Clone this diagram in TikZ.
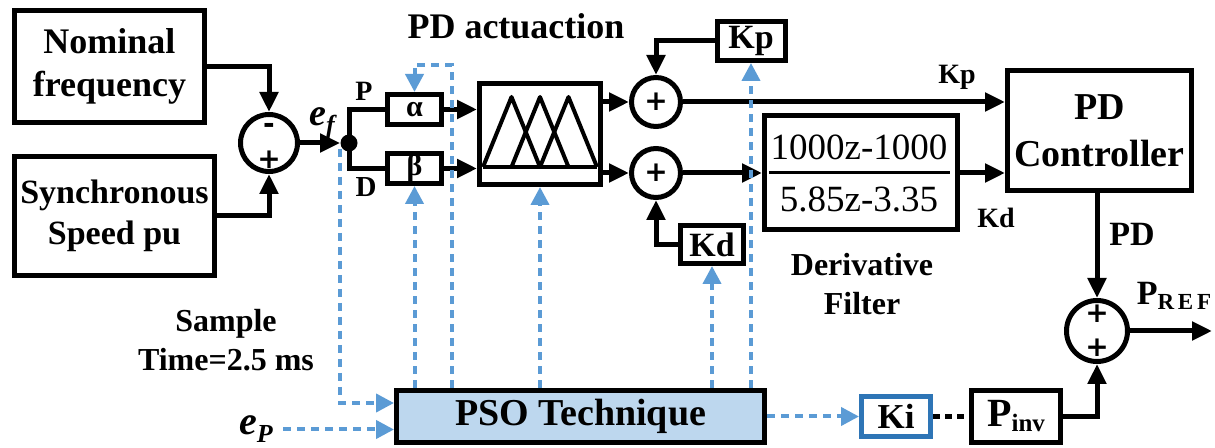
\documentclass[tikz,border=0pt]{standalone}
\usepackage{fontspec}
\setmainfont{Liberation Serif}
\newfontfamily\signfont{DejaVu Sans}
\usetikzlibrary{arrows.meta,calc}
\definecolor{bl}{HTML}{5B9BD5}
\definecolor{bldark}{HTML}{2E75B6}
\definecolor{psofill}{HTML}{BDD7EE}
\begin{document}
\begin{tikzpicture}[x=0.5pt,y=-0.5pt,
  blk/.style={draw, line width=2.5pt, inner sep=0pt, align=center},
  sumc/.style={draw, circle, line width=2.5pt, inner sep=0pt},
  sign/.style={inner sep=0pt, font=\signfont\bfseries\fontsize{14}{14}\selectfont},
  ar/.style={line width=2.5pt, -{Triangle[length=10pt,width=9pt]}},
  ln/.style={line width=2.5pt},
  bd/.style={draw=bl, line width=2pt, dash pattern=on 4pt off 3pt, -{Triangle[length=9pt,width=9pt,fill=bl]}},
  lbl/.style={inner sep=0pt, align=center}]
\useasboundingbox (0,0) rectangle (1215,448);

% blocks
\node[blk, minimum width=95pt, minimum height=56pt, font=\bfseries\fontsize{18}{21.5}\selectfont] (nom) at (109.5,66.5) {Nominal\\frequency};
\node[blk, minimum width=100pt, minimum height=59.5pt, font=\bfseries\fontsize{17}{20.5}\selectfont] (syn) at (114.5,216) {Synchronous\\Speed pu};
\node[sumc, minimum size=28.5pt] (s1) at (269,143) {};
\node[sign] at (269,128) {-};
\node[sign] at (269,160) {+};
\node[circle, fill, minimum size=8.5pt, inner sep=0pt] (dot) at (349,143) {};
\node[blk, minimum width=27pt, minimum height=15pt, font=\bfseries\fontsize{15}{15}\selectfont] (alpha) at (414.5,109.5) {α};
\node[blk, minimum width=27pt, minimum height=15pt, font=\bfseries\fontsize{15}{15}\selectfont] (beta) at (414.5,168.5) {β};
\node[blk, minimum width=60.5pt, minimum height=50.5pt] (fz) at (540,134) {};
\draw[line width=2pt, line join=round] (483,167) -- (597,167);
\draw[line width=2pt, line join=round] (483,167) -- (511.5,97) -- (540,167);
\draw[line width=2pt, line join=round] (511.5,167) -- (540,97) -- (568.5,167);
\draw[line width=2pt, line join=round] (540,167) -- (568.5,97) -- (597,167);
\node[sumc, minimum size=24.5pt] (sKp) at (656,102) {};
\node[sign] at (sKp) {+};
\node[sumc, minimum size=24.5pt] (sKd) at (656,173) {};
\node[sign] at (sKd) {+};
\node[blk, minimum width=34pt, minimum height=19.5pt, font=\bfseries\fontsize{17}{17}\selectfont] (Kpb) at (751,41) {Kp};
\node[blk, minimum width=31.5pt, minimum height=19pt, font=\bfseries\fontsize{17}{17}\selectfont] (Kdb) at (712,244.5) {Kd};
\node[blk, minimum width=96.5pt, minimum height=57pt] (filt) at (861,172.5) {};
\node[lbl, font=\fontsize{18.5}{19}\selectfont] (num) at (859,147) {1000z-1000};
\node[lbl, font=\fontsize{18.5}{19}\selectfont] (den) at (859,199) {5.85z-3.35};
\draw[line width=1.5pt] (769,173) -- (950,173);
\node[blk, minimum width=92pt, minimum height=60pt, font=\bfseries\fontsize{19}{23.5}\selectfont] (pdc) at (1099.5,130.5) {PD\\Controller};
\node[sumc, minimum size=30.5pt] (s3) at (1097,331) {};
\node[sign] at (1097,314) {+};
\node[sign] at (1097,348) {+};
\node[blk, minimum width=44.5pt, minimum height=26pt, font=\bfseries\fontsize{20}{20}\selectfont] (pinv) at (1016,416.5) {P\raisebox{-2.5pt}{\fontsize{12.5}{13}\selectfont inv}};
\node[blk, draw=bldark, minimum width=34.5pt, minimum height=20pt, font=\bfseries\fontsize{17.5}{17.5}\selectfont] (ki) at (896,416.5) {Ki};
\node[blk, fill=psofill, minimum width=184pt, minimum height=26pt, font=\bfseries\fontsize{19}{20}\selectfont] (pso) at (580.5,416.5) {PSO Technique};

% labels
\node[lbl, font=\bfseries\itshape\fontsize{19}{20}\selectfont] (ef) at (322,123) {e\raisebox{-4pt}{\fontsize{13}{14}\selectfont f}};
\node[lbl, font=\bfseries\itshape\fontsize{20}{20}\selectfont] (ep) at (256,429) {e\raisebox{-4pt}{\fontsize{13}{14}\selectfont P}};
\node[lbl, font=\bfseries\fontsize{14}{14}\selectfont] (lP) at (364,91) {P};
\node[lbl, font=\bfseries\fontsize{14.5}{14.5}\selectfont] (lD) at (366,187) {D};
\node[lbl, font=\bfseries\fontsize{18}{18}\selectfont] (act) at (516,26) {PD actuaction};
\node[lbl, font=\bfseries\fontsize{14}{14}\selectfont] (lKp) at (957,77) {Kp};
\node[lbl, font=\bfseries\fontsize{14}{14}\selectfont] (lKd) at (996,218) {Kd};
\node[lbl, font=\bfseries\fontsize{17}{17}\selectfont] (lPD) at (1132,234) {PD};
\node[lbl, font=\bfseries\fontsize{17}{17}\selectfont] (pref) at (1174,296) {P\raisebox{-2.5pt}{\fontsize{11.5}{12}\selectfont R\,E\,F}};
\node[lbl, font=\bfseries\fontsize{16}{19.5}\selectfont] (df) at (862,284) {Derivative\\Filter};
\node[lbl, font=\bfseries\fontsize{16}{19.5}\selectfont] (st) at (226,340) {Sample\\Time=2.5 ms};

\coordinate (out) at (1212,331);
\coordinate (bd1) at (340,149);
\coordinate (atop) at (452,65);
\coordinate (epo) at (283,429.5);

% black connectors
\draw[ar] (nom.east) -| (s1.north);
\draw[ar] (syn.east) -| (s1.south);
\draw[ar] (s1.east) -- (dot.west);
\draw[ln] (dot.center) |- (alpha.west);
\draw[ln] (dot.center) |- (beta.west);
\draw[ar] (alpha.east) -- (alpha.east -| fz.west);
\draw[ar] (beta.east) -- (beta.east -| fz.west);
\draw[ar] (fz.east |- sKp) -- (sKp.west);
\draw[ar] (fz.east |- sKd) -- (sKd.west);
\draw[ar] (Kpb.west) -| (sKp.north);
\draw[ar] (Kdb.west) -| (sKd.south);
\draw[ar] (sKp.east) -- (sKp.east -| pdc.west);
\draw[ar] (sKd.east) -- (sKd.east -| filt.west);
\draw[ar] (filt.east |- sKd) -- (sKd -| pdc.west);
\draw[ar] (pdc.south -| s3) -- (s3.north);
\draw[ar] (pinv.east) -| (s3.south);
\draw[ar] (s3.east) -- (out);
\draw[line width=2.5pt, dash pattern=on 3.5pt off 2.5pt] (ki.east) -- (pinv.west);

% blue dashed connectors
\draw[bd] (bd1) |- ($(pso.west)+(0,-13.5)$);
\draw[bd] (epo) -- (epo -| pso.west);
\draw[bd] (pso.north -| beta) -- (beta.south);
\draw[bd] (pso.north -| atop) -- (atop) -| (alpha.north);
\draw[bd] (pso.north -| fz) -- (fz.south);
\draw[bd] (pso.north -| Kdb) -- (Kdb.south);
\draw[bd] (pso.north -| Kpb) -- (Kpb.south);
\draw[bd] (pso.east) -- (ki.west);
\end{tikzpicture}
\end{document}
